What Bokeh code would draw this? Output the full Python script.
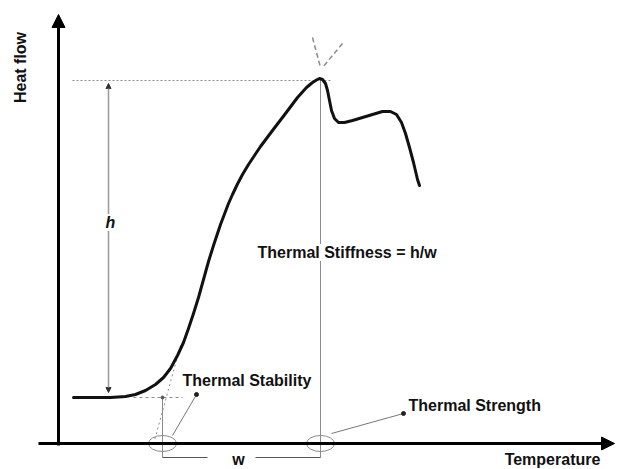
import math
from bokeh.plotting import figure
from bokeh.models import Range1d, Label, Arrow, NormalHead, ColumnDataSource
from bokeh.embed import file_html
from bokeh.resources import INLINE

# ---- schematic DSC-like curve (arbitrary units) ----
temperature = [73, 90, 110, 125, 135, 145, 155, 163, 170, 177, 183, 188, 193, 198,
               203, 208, 213, 220, 228, 232, 237, 242, 248, 254, 260, 266, 272, 285,
               297, 306, 312, 316, 319, 322, 325, 327, 329, 331, 334, 338, 344, 352,
               362, 372, 382, 390, 396, 401, 405, 409, 413, 417, 419]
heat_flow = [72, 72, 72, 73, 75, 79, 85, 92, 101, 114, 127, 141, 156, 172,
             190, 208, 224, 245, 266, 275, 285.5, 295, 305, 314, 323, 331, 339, 356,
             372, 382, 387, 389.5, 391, 390, 386, 379, 369, 359, 351, 347, 347, 349,
             352, 355, 358, 358, 355, 347, 336, 322, 307, 290, 284]

onset_temperature = 162   # thermal stability
peak_temperature = 320    # thermal strength
baseline = 72
peak_heat_flow = 391

labels = ["Heat flow", "Temperature", "Thermal Stability", "Thermal Strength",
          "Thermal Stiffness = h/w", "h", "w"]

FONT = "Liberation Sans"
GREY = "#8c8c8c"

p = figure(width=618, height=469, x_range=Range1d(0, 618), y_range=Range1d(0, 469),
           output_backend="svg", toolbar_location=None, min_border=0)
p.axis.visible = False
p.grid.visible = False
p.outline_line_color = None
p.background_fill_color = "white"
p.border_fill_color = "white"

axis_y = 26
axis_x = 58

# guide lines
p.line([72, peak_temperature + 12], [peak_heat_flow - 2, peak_heat_flow - 2],
       line_color=GREY, line_width=1, line_dash="2 2")
p.line([133, 182], [baseline, baseline], line_color=GREY, line_width=1, line_dash="3 3")
p.line([180, 154], [124, 29], line_color=GREY, line_width=1, line_dash="2 3")
p.line([312, peak_temperature], [432, 402], line_color=GREY, line_width=1.5, line_dash="5 3")
p.line([342, peak_temperature + 2], [426, 402], line_color=GREY, line_width=1.5, line_dash="5 3")

# vertical markers
p.line([peak_temperature, peak_temperature], [peak_heat_flow, 12], line_color=GREY, line_width=1)
p.line([onset_temperature, onset_temperature], [baseline, 12], line_color=GREY, line_width=1)
p.scatter([onset_temperature], [baseline], size=3, color="#555555")

# h dimension
p.add_layout(Arrow(x_start=108, y_start=240, x_end=108, y_end=peak_heat_flow - 5,
                   line_color="#999999", line_width=1.5,
                   end=NormalHead(size=5, fill_color="#333333", line_color="#333333")))
p.add_layout(Arrow(x_start=108, y_start=240, x_end=108, y_end=baseline + 5,
                   line_color="#999999", line_width=1.5,
                   end=NormalHead(size=5, fill_color="#333333", line_color="#333333")))

# w dimension
p.line([onset_temperature, 207], [12, 12], line_color="#555555", line_width=1)
p.line([255, peak_temperature], [12, 12], line_color="#555555", line_width=1)

# ellipses
p.ellipse([onset_temperature, peak_temperature], [axis_y, axis_y], width=28, height=16,
          fill_color=None, line_color=GREY, line_width=1)

# pointers
p.line([172, 196], [34, 75], line_color="#777777", line_width=1)
p.scatter([196], [75], size=4, color="#222222")
p.line([331, 403], [36, 56], line_color="#777777", line_width=1)
p.scatter([403], [56], size=4, color="#222222")

# axes with arrows
p.add_layout(Arrow(x_start=38, y_start=axis_y, x_end=614, y_end=axis_y,
                   line_color="black", line_width=3,
                   end=NormalHead(size=13, fill_color="black", line_color="black")))
p.add_layout(Arrow(x_start=axis_x, y_start=axis_y - 2, x_end=axis_x, y_end=455,
                   line_color="black", line_width=3,
                   end=NormalHead(size=13, fill_color="black", line_color="black")))

# curve
src = ColumnDataSource(dict(t=temperature, hf=heat_flow))
p.line("t", "hf", source=src, line_color="#111111", line_width=3, line_join="round",
       line_cap="round")

def lab(x, y, text, align="left", angle=0, style="bold", bg=None, baseline="middle"):
    p.add_layout(Label(x=x, y=y, text=text, text_font=FONT, text_font_size="16px",
                       text_font_style=style, text_align=align, text_baseline=baseline,
                       angle=angle, text_color="#111111",
                       background_fill_color=bg))

lab(20, 402, labels[0], align="center", angle=math.pi / 2)
lab(552, 2, labels[1], align="center", baseline="bottom")
lab(182, 89, labels[2])
lab(408, 64, labels[3])
lab(257, 217, labels[4], bg="white")
lab(110, 247, labels[5], align="center", style="bold italic", bg="white")
lab(238, 2, labels[6], align="center", baseline="bottom")

open("out.html", "w").write(file_html(p, INLINE))
